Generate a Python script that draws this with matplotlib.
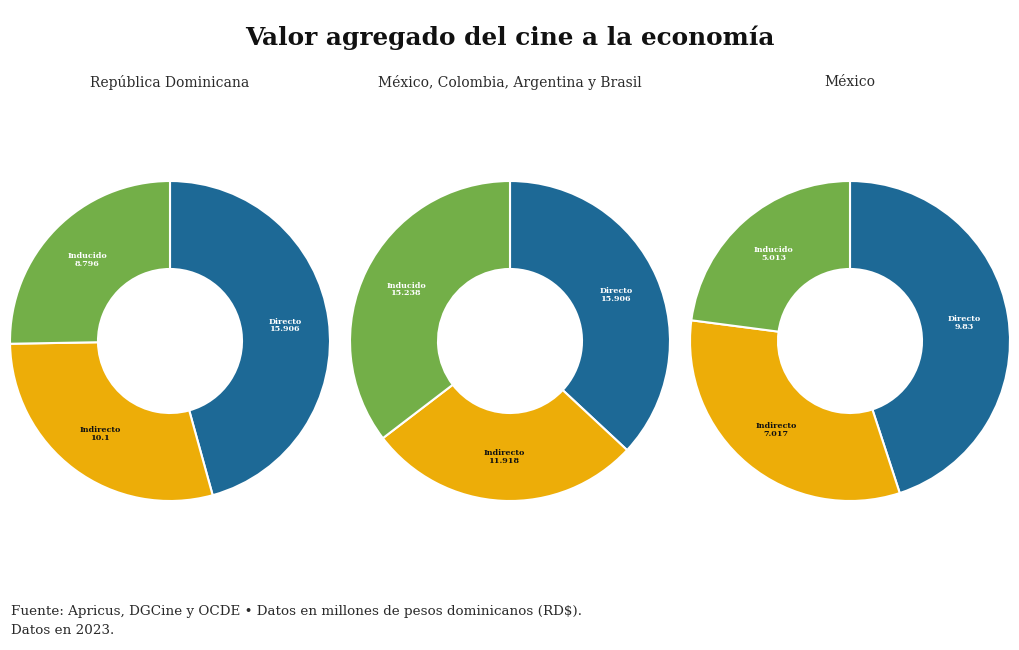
import numpy as np
import matplotlib
matplotlib.use("Agg")
import matplotlib.pyplot as plt

# Data (millones de RD$)
categories = ["Directo", "Indirecto", "Inducido"]
regions = ["República Dominicana", "México, Colombia, Argentina y Brasil", "México"]
rd_values = [15.906, 10.1, 8.796]
latam_values = [15.906, 11.918, 15.238]
mexico_values = [9.83, 7.017, 5.013]
value_labels = [["15.906", "10.1", "8.796"],
                ["15.906", "11.918", "15.238"],
                ["9.83", "7.017", "5.013"]]

colors = ["#1d6996", "#edad08", "#73af48"]
label_colors = ["white", "#111111", "white"]

plt.rcParams["font.family"] = ["DejaVu Serif"]

fig = plt.figure(figsize=(10.2, 6.5), dpi=100)
W, H = 1020, 650

centers_x = [170, 510, 850]
center_y = 341
radius_px = 160
hole = 0.45

for i, values in enumerate([rd_values, latam_values, mexico_values]):
    cx = centers_x[i]
    ax = fig.add_axes([(cx - radius_px) / W, (H - center_y - radius_px) / H,
                       2 * radius_px / W, 2 * radius_px / H])
    wedges, _ = ax.pie(values, colors=colors, startangle=90, counterclock=False,
                       radius=1, wedgeprops=dict(width=1 - hole, edgecolor="white", linewidth=1.5))
    r_mid = (1 + hole) / 2
    for j, w in enumerate(wedges):
        ang = np.deg2rad((w.theta1 + w.theta2) / 2)
        ax.text(r_mid * np.cos(ang), r_mid * np.sin(ang),
                categories[j] + "\n" + value_labels[i][j],
                ha="center", va="center", fontsize=5.8, fontweight="bold",
                color=label_colors[j], linespacing=0.95)
    ax.set_xlim(-1, 1)
    ax.set_ylim(-1, 1)
    ax.set_aspect("equal")
    ax.axis("off")
    fig.text(cx / W, 1 - 82 / H, regions[i], ha="center", va="center",
             fontsize=10, color="#2a2a2a")

fig.text(0.5, 1 - 38 / H, "Valor agregado del cine a la economía",
         ha="center", va="center", fontsize=17.8, fontweight="bold", color="#111111")

fig.text(11 / W, 1 - 612 / H,
         "Fuente: Apricus, DGCine y OCDE • Datos en millones de pesos dominicanos (RD$).",
         ha="left", va="center", fontsize=9.7, color="#2a2a2a")
fig.text(11 / W, 1 - 631 / H, "Datos en 2023.",
         ha="left", va="center", fontsize=9.7, color="#2a2a2a")

fig.savefig("out.png", dpi=100, facecolor="white")
